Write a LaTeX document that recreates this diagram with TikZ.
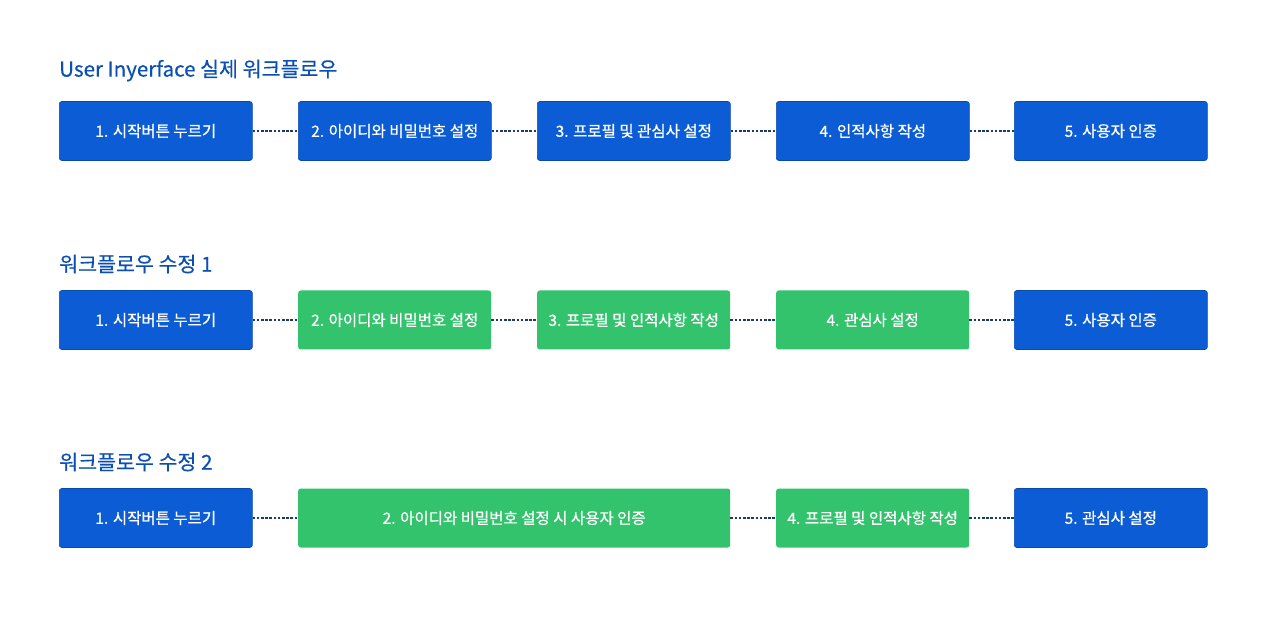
\documentclass[tikz,border=0pt]{standalone}
\usepackage{fontspec}
\setmainfont{Noto Sans CJK KR}
\newfontfamily\medfont[FakeBold=0.7]{Noto Sans CJK KR}
\newfontfamily\ttlfont[FakeBold=0.4]{Noto Sans CJK KR}
\definecolor{boxblue}{HTML}{0B5CD5}
\definecolor{boxgreen}{HTML}{32C36C}
\definecolor{titleblue}{HTML}{0B4FB3}
\definecolor{linknavy}{HTML}{1E3A68}
\tikzset{
  wbox/.style={rounded corners=2.5pt, minimum height=59pt, inner sep=0pt, text=white, font=\medfont\fontsize{15.5}{18}\selectfont, anchor=west},
  bluebox/.style={wbox, fill=boxblue, draw=boxblue!80!black, line width=0.6pt},
  greenbox/.style={wbox, fill=boxgreen},
  ttl/.style={anchor=west, text=titleblue, font=\ttlfont\fontsize{20.6}{24}\selectfont, inner sep=0pt},
  link/.style={draw=linknavy, line width=1.5pt, dash pattern=on 2.6pt off 1.6pt}
}
\begin{document}
\begin{tikzpicture}[x=1pt,y=-1pt]
\useasboundingbox (0,0) rectangle (1280,628);
% row 1
\node[ttl] (t1) at (59,70.5) {User Inyerface 실제 워크플로우};
\node[bluebox, minimum width=193pt] (a1) at (59,131) {1. 시작버튼 누르기};
\node[bluebox, minimum width=193pt] (a2) at (298,131) {2. 아이디와 비밀번호 설정};
\node[bluebox, minimum width=193pt] (a3) at (537,131) {3. 프로필 및 관심사 설정};
\node[bluebox, minimum width=193pt] (a4) at (776,131) {4. 인적사항 작성};
\node[bluebox, minimum width=193pt] (a5) at (1014,131) {5. 사용자 인증};
\draw[link] (a1.east) -- (a2.west);
\draw[link] (a2.east) -- (a3.west);
\draw[link] (a3.east) -- (a4.west);
\draw[link] (a4.east) -- (a5.west);
% row 2
\node[ttl] (t2) at (59,264) {워크플로우 수정 1};
\node[bluebox, minimum width=193pt] (b1) at (59,320) {1. 시작버튼 누르기};
\node[greenbox, minimum width=193pt] (b2) at (298,320) {2. 아이디와 비밀번호 설정};
\node[greenbox, minimum width=193pt] (b3) at (537,320) {3. 프로필 및 인적사항 작성};
\node[greenbox, minimum width=193pt] (b4) at (776,320) {4. 관심사 설정};
\node[bluebox, minimum width=193pt] (b5) at (1014,320) {5. 사용자 인증};
\draw[link] (b1.east) -- (b2.west);
\draw[link] (b2.east) -- (b3.west);
\draw[link] (b3.east) -- (b4.west);
\draw[link] (b4.east) -- (b5.west);
% row 3
\node[ttl] (t3) at (59,462) {워크플로우 수정 2};
\node[bluebox, minimum width=193pt] (c1) at (59,518) {1. 시작버튼 누르기};
\node[greenbox, minimum width=432pt] (c2) at (298,518) {2. 아이디와 비밀번호 설정 시 사용자 인증};
\node[greenbox, minimum width=193pt] (c3) at (776,518) {4. 프로필 및 인적사항 작성};
\node[bluebox, minimum width=193pt] (c4) at (1014,518) {5. 관심사 설정};
\draw[link] (c1.east) -- (c2.west);
\draw[link] (c2.east) -- (c3.west);
\draw[link] (c3.east) -- (c4.west);
\end{tikzpicture}
\end{document}
